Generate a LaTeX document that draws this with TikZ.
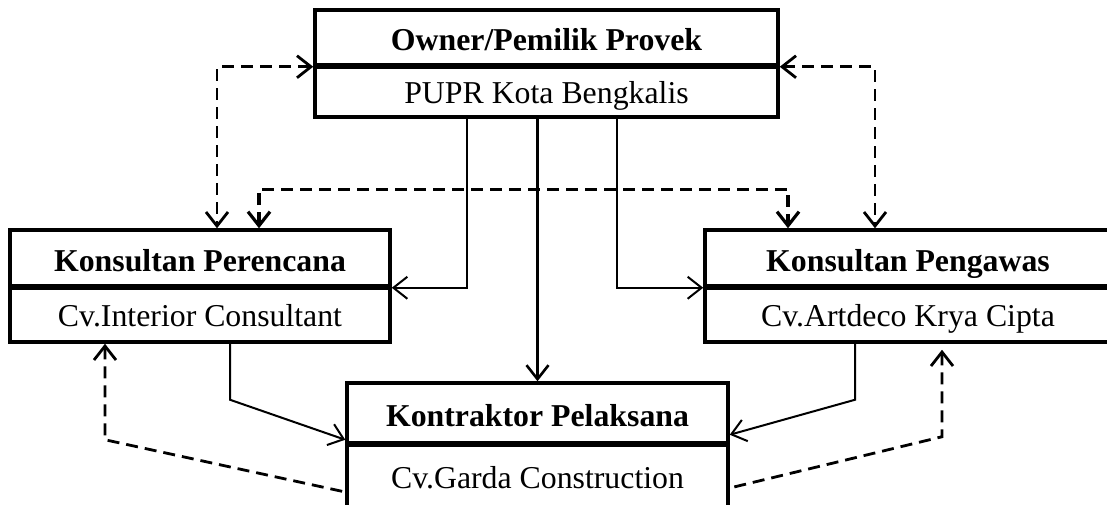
\documentclass[tikz,border=0pt]{standalone}
\usepackage{fontspec}
\setmainfont{Liberation Serif}
\usetikzlibrary{arrows.meta}
\newcommand{\boxfont}{\fontsize{15.9pt}{19pt}\selectfont}
\tikzstyle{headbox}=[draw,line width=1.75pt,inner sep=0pt,text height=13pt,text depth=0pt,font=\boxfont\bfseries]
\tikzstyle{subbox}=[draw,line width=1.75pt,inner sep=0pt,text height=13pt,text depth=1pt,font=\boxfont]
\tikzstyle{divider}=[line width=2.6pt]
\tikzstyle{line}=[line width=1pt,-{Straight Barb[length=7pt,width=11pt]}]
\tikzstyle{dline}=[line width=1.4pt,dash pattern=on 6pt off 3.5pt,{Straight Barb[length=7pt,width=11pt]}-{Straight Barb[length=7pt,width=11pt]}]
\tikzstyle{dlinea}=[line width=1.4pt,dash pattern=on 6pt off 3.5pt,{Straight Barb[length=7pt,width=11pt]}-]

\begin{document}
\begin{tikzpicture}[x=0.5pt,y=-0.5pt]
    \useasboundingbox (0,0) rectangle (1107,504);
    \node[headbox,minimum width=231.5pt,minimum height=27.5pt] (own) at (546.5,37.5) {Owner/Pemilik Provek};
    \node[subbox,minimum width=231.5pt,minimum height=26pt] (ownsub) at (546.5,91) {PUPR Kota Bengkalis};
    \node[headbox,minimum width=190pt,minimum height=28pt] (per) at (200,258) {Konsultan Perencana};
    \node[subbox,minimum width=190pt,minimum height=28pt] (persub) at (200,314) {Cv.Interior Consultant};
    \node[headbox,minimum width=203pt,minimum height=28pt] (pen) at (908,258) {Konsultan Pengawas};
    \node[subbox,minimum width=203pt,minimum height=28pt] (pensub) at (908,314) {Cv.Artdeco Krya Cipta};
    \node[headbox,minimum width=190.5pt,minimum height=30pt] (kon) at (537.5,413) {Kontraktor Pelaksana};
    \node[subbox,minimum width=190.5pt,minimum height=33pt] (konsub) at (537.5,476) {Cv.Garda Construction};

    \foreach \n in {own,per,pen,kon}
    \draw[divider] (\n.south west) -- (\n.south east);

    % garis komando
    \draw[line] ([xshift=-40pt]ownsub.south) |- (per.south east);
    \draw[line,line width=1.3pt] (kon.north |- ownsub.south) -- (kon.north);
    \draw[line] ([xshift=35pt]ownsub.south) |- (pen.south west);
    \draw[line] ([xshift=15pt]persub.south) -- ++(0,56) -- ([yshift=2.5pt]kon.south west);
    \draw[line] ([xshift=-26.5pt]pensub.south) -- ++(0,56) -- ([yshift=5pt]kon.south east);

    % garis koordinasi
    \draw[dline] (own.south west) -| ([xshift=8.5pt]per.north);
    \draw[dline] (own.south east) -| ([xshift=-16.5pt]pen.north);
    \draw[dline,line width=1.6pt] ([xshift=29.5pt]per.north) -- ++(0,-39) -| ([xshift=-60pt]pen.north);
    \draw[dlinea] ([xshift=-47.5pt]persub.south) -- ++(0,96) -- ([yshift=-8pt]konsub.west);
    \draw[dlinea] ([xshift=17pt,yshift=-3pt]pensub.south) -- ++(0,87) -- ([yshift=-6pt]konsub.east);
\end{tikzpicture}
\end{document}
